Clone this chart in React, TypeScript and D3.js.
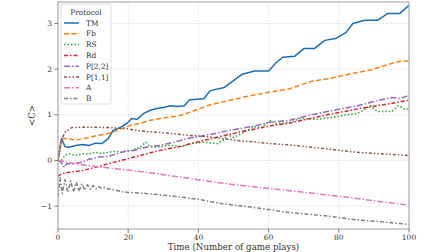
import React from 'react';
import * as d3 from 'd3';

// [time, <C>]
const tmData: [number, number][] = [
  [0, 0], [1, 0.48], [2, 0.3], [3, 0.29], [5, 0.33], [7, 0.35], [9, 0.33], [10.6, 0.38], [12.5, 0.37],
  [14.3, 0.48], [15.7, 0.66], [17.7, 0.72], [19.6, 0.81], [21, 0.92], [22.5, 0.9], [24.4, 1.03],
  [26.3, 1.1], [28.2, 1.14], [30, 1.16], [32, 1.2], [34, 1.18], [36, 1.2], [37.5, 1.33], [41.5, 1.35],
  [43.4, 1.53], [47.4, 1.6], [50, 1.75], [52.5, 1.89], [56, 1.96], [60, 1.96], [62, 2.13], [64, 2.26],
  [67.4, 2.28], [70, 2.45], [73, 2.45], [76, 2.63], [79, 2.67], [82, 2.8], [84, 3.0], [87.4, 3.07],
  [91, 3.07], [94, 3.22], [97.4, 3.22], [100, 3.4],
];
const fbData: [number, number][] = [
  [0, 0], [1, 0.48], [3, 0.48], [5, 0.44], [7, 0.48], [8.6, 0.5], [11.4, 0.55], [14.3, 0.59], [17, 0.66],
  [19, 0.72], [20.6, 0.77], [23.4, 0.81], [26.3, 0.88], [29, 0.92], [32, 0.95], [35, 0.99], [37.7, 1.06],
  [43.4, 1.22], [49, 1.32], [55, 1.42], [60.6, 1.5], [66, 1.57], [72, 1.73], [77.7, 1.8], [83.4, 1.9],
  [89, 1.98], [94.8, 2.12], [97.7, 2.18], [100, 2.17],
];
const rsData: [number, number][] = [
  [0, 0], [1, 0], [2, 0.11], [3, 0.15], [5, 0.11], [7, 0.15], [8.6, 0.14], [10.6, 0.18], [12.5, 0.15],
  [14.3, 0.18], [16.3, 0.2], [18, 0.18], [20.6, 0.22], [23.4, 0.29], [25, 0.4], [26, 0.32], [27.2, 0.29],
  [29, 0.3], [31, 0.33], [33, 0.33], [35, 0.3], [37.7, 0.37], [41.5, 0.4], [45.4, 0.37], [47.4, 0.46],
  [48.2, 0.57], [50, 0.5], [53, 0.62], [55.7, 0.74], [58, 0.72], [59.7, 0.83], [60.6, 0.87], [62, 0.8],
  [64, 0.82], [66, 0.83], [69, 0.92], [74, 0.9], [77.7, 0.94], [81.4, 0.99], [85.4, 1.03], [89, 1.2],
  [91, 1.07], [95, 1.07], [97, 1.2], [98.6, 1.13], [100, 1.13],
];
const rdData: [number, number][] = [
  [0, -0.35], [1, -0.29], [3, -0.26], [7, -0.22], [10.6, -0.15], [14.3, -0.07], [18, 0], [23.4, 0.11],
  [29, 0.22], [35, 0.31], [41.5, 0.44], [51, 0.61], [60.6, 0.76], [66, 0.82], [76, 0.99], [85.4, 1.13],
  [95, 1.25], [100, 1.32],
];
const p22Data: [number, number][] = [
  [0, 0], [0.9, -0.04], [1.8, -0.15], [2.5, -0.07], [4, -0.07], [6.8, -0.04], [8.6, 0.02], [11.4, 0.07],
  [14.3, 0.09], [17, 0.15], [19, 0.2], [21.5, 0.22], [25, 0.29], [29, 0.33], [33, 0.4], [37, 0.48],
  [43.4, 0.57], [49, 0.66], [55, 0.74], [60.6, 0.84], [66, 0.88], [72, 1.0], [76, 1.06], [80.6, 1.13],
  [85.4, 1.2], [90, 1.29], [95, 1.38], [97.7, 1.36], [100, 1.43],
];
const p11Data: [number, number][] = [
  [0, 0], [0.9, 0.44], [2, 0.62], [3.9, 0.72], [6.8, 0.73], [10.6, 0.73], [14.3, 0.72], [19, 0.7],
  [24.4, 0.64], [31, 0.6], [37, 0.55], [41.5, 0.53], [51, 0.44], [60.6, 0.37], [66, 0.34], [76, 0.26],
  [85, 0.18], [100, 0.11],
];
const aData: [number, number][] = [
  [0, 0], [4.9, -0.07], [10.6, -0.13], [16.3, -0.18], [20, -0.21], [30, -0.31], [40, -0.42], [47, -0.5],
  [55, -0.57], [66, -0.66], [75, -0.74], [85, -0.83], [95, -0.93], [100, -0.98],
];
const bData: [number, number][] = [
  [0, -0.8], [0.6, -0.38], [1.2, -0.72], [2, -0.42], [2.8, -0.7], [3.6, -0.45], [4.4, -0.69], [5.2, -0.48],
  [6, -0.67], [6.8, -0.51], [7.6, -0.65], [8.4, -0.53], [9.2, -0.63], [10, -0.55], [10.8, -0.62],
  [11.6, -0.57], [12.4, -0.61], [13.2, -0.59], [14, -0.62], [16, -0.64], [18, -0.68], [20, -0.7],
  [25, -0.72], [30, -0.76], [35, -0.8], [40, -0.85], [47, -0.95], [55, -1.02], [66, -1.14], [76, -1.21],
  [85, -1.3], [92, -1.34], [100, -1.4],
];

const protocols = ['TM', 'Fb', 'RS', 'Rd', 'P[2,2]', 'P[1,1]', 'A', 'B'];
const seriesData = [tmData, fbData, rsData, rdData, p22Data, p11Data, aData, bData];
const colors = ['#1a6db5', '#ff7f0e', '#2ca02c', '#d62728', '#9467bd', '#8c564b', '#e377c2', '#7f7f7f'];
const dashes = ['', '5,2.5', '1.5,2', '4,2,1.5,2', '6,2,1.5,2', '3,2,1.5,2,1.5,2', '6,2,1.5,2', '4,2,1.5,2'];

const xTicks = [0, 20, 40, 60, 80, 100];
const yTicks = [-1, 0, 1, 2, 3];

const W = 448;
const H = 252;
const margin = { top: 2, right: 39, bottom: 23, left: 58 };
const font = 'DejaVu Serif';

export default function App() {
  const innerW = W - margin.left - margin.right;
  const innerH = H - margin.top - margin.bottom;
  const x = d3.scaleLinear().domain([0, 100]).range([0, innerW]);
  const y = d3.scaleLinear().domain([-1.5, 3.47]).range([innerH, 0]);
  const line = d3.line<[number, number]>().x((d) => x(d[0])).y((d) => y(d[1]));

  return (
    <svg width={W} height={H} style={{ position: 'absolute', left: 0, top: 0, background: '#fff' }}>
      <g transform={`translate(${margin.left},${margin.top})`}>
        {/* grid */}
        {xTicks.map((t) => (
          <line key={'gx' + t} x1={x(t)} x2={x(t)} y1={0} y2={innerH} stroke="#d0d0d0" strokeWidth={0.8} strokeDasharray="1,1.6" />
        ))}
        {yTicks.map((t) => (
          <line key={'gy' + t} x1={0} x2={innerW} y1={y(t)} y2={y(t)} stroke="#d0d0d0" strokeWidth={0.8} strokeDasharray="1,1.6" />
        ))}

        <clipPath id="plotclip">
          <rect x={0} y={0} width={innerW} height={innerH} />
        </clipPath>
        <g clipPath="url(#plotclip)">
          {seriesData.map((d, i) => (
            <path key={protocols[i]} d={line(d) || ''} fill="none" stroke={colors[i]} strokeWidth={1.5}
              strokeDasharray={dashes[i] || undefined} strokeLinejoin="round" />
          ))}
        </g>

        {/* frame */}
        <rect x={0} y={0} width={innerW} height={innerH} fill="none" stroke="#a8a8a8" strokeWidth={1.1} />

        {/* x axis */}
        {xTicks.map((t) => (
          <g key={'xt' + t} transform={`translate(${x(t)},${innerH})`}>
            <line y1={0} y2={3.5} stroke="#555" strokeWidth={0.8} />
            <text y={11} textAnchor="middle" fontFamily={font} fontSize={7.5} fill="#333">{t}</text>
          </g>
        ))}
        {/* y axis */}
        {yTicks.map((t) => (
          <g key={'yt' + t} transform={`translate(0,${y(t)})`}>
            <line x1={0} x2={-3.5} stroke="#555" strokeWidth={0.8} />
            <text x={-6} dy="0.35em" textAnchor="end" fontFamily={font} fontSize={7.5} fill="#333">
              {t < 0 ? '\u2212' + Math.abs(t) : t}
            </text>
          </g>
        ))}

        <text x={innerW / 2} y={innerH + 21} textAnchor="middle" fontFamily={font} fontSize={8.7} fill="#333">
          Time (Number of game plays)
        </text>
        <text transform={`translate(${-23},${innerH / 2}) rotate(-90)`} textAnchor="middle" fontFamily={font} fontSize={8.7} fill="#333">
          {'<C>'}
        </text>

        {/* legend */}
        <g transform="translate(3,2)">
          <rect x={0} y={0} width={50} height={100} rx={2} fill="#fff" fillOpacity={0.85} stroke="#d6d6d6" strokeWidth={0.8} />
          <text x={25} y={10.5} textAnchor="middle" fontFamily={font} fontSize={7.4} fill="#333">Protocol</text>
          {protocols.map((p, i) => (
            <g key={'lg' + p} transform={`translate(0,${19 + i * 10.8})`}>
              <line x1={3} x2={18} y1={0} y2={0} stroke={colors[i]} strokeWidth={1.5} strokeDasharray={dashes[i] || undefined} />
              <text x={25} dy="0.35em" fontFamily={font} fontSize={7.4} fill="#333">{p}</text>
            </g>
          ))}
        </g>
      </g>
    </svg>
  );
}
